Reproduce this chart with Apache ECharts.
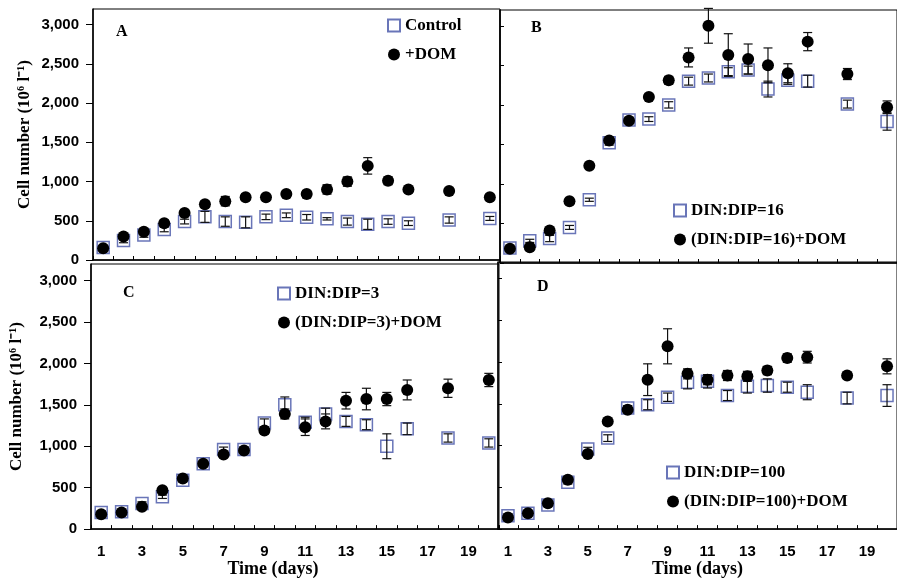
<html>
<head>
<meta charset="UTF-8">
<title>Cell number vs time</title>
<script src="https://cdn.jsdelivr.net/npm/echarts@6/dist/echarts.min.js"></script>
<style>html,body,#container{width:100%;height:100%;margin:0;padding:0;background:#fff;}</style>
</head>
<body>
<div id="container"></div>
<script>
// sampling days (17 and 19 were not sampled)
var days = [1,2,3,4,5,6,7,8,9,10,11,12,13,14,15,16,18,20];
var dayLabels = [];
for (var d = 1; d <= 20; d++) dayLabels.push(String(d));
var yTicks = [0, 500, 1000, 1500, 2000, 2500, 3000];

// A
var aCtrl    = [160,250,320,390,490,550,490,480,550,570,545,525,490,455,490,470,510,530];
var aCtrlErr = [20,30,30,30,30,70,60,70,35,30,35,15,45,65,35,30,40,25];
var aDom     = [150,300,360,470,600,710,750,800,800,840,840,900,1000,1200,1010,900,880,800];
var aDomErr  = [20,20,30,40,40,40,60,40,30,40,45,60,60,105,50,20,20,20];
// B
var bCtrl    = [190,280,310,450,800,1520,1810,1820,2000,2300,2340,2420,2440,2200,2310,2300,2010,1790];
var bCtrlErr = [20,20,40,25,20,30,30,30,40,50,50,50,50,100,50,75,50,110];
var bDom     = [180,200,410,780,1230,1550,1800,2100,2310,2600,3000,2630,2580,2500,2400,2800,2390,1970];
var bDomErr  = [20,20,30,20,20,20,20,20,50,120,220,270,190,220,120,115,70,80];
// C
var cCtrl    = [200,210,310,390,590,790,960,960,1280,1500,1290,1390,1300,1260,1000,1210,1100,1040];
var cCtrlErr = [20,20,20,20,20,20,30,30,50,95,60,70,60,60,150,70,50,50];
var cDom     = [180,200,270,470,610,790,900,950,1190,1390,1230,1300,1550,1570,1570,1680,1700,1800];
var cDomErr  = [20,20,20,30,30,30,30,30,40,60,100,90,100,130,80,120,110,80];
// D
var dCtrl    = [160,190,290,560,960,1090,1450,1490,1580,1760,1770,1600,1710,1720,1700,1640,1570,1600];
var dCtrlErr = [20,20,20,20,20,40,30,60,50,80,80,60,80,80,60,90,70,130];
var dDom     = [140,190,310,590,900,1290,1430,1790,2190,1860,1790,1840,1830,1900,2050,2060,1840,1950];
var dDomErr  = [20,20,20,20,20,20,20,190,210,60,60,60,60,50,50,70,30,90];

var panels = [
  {letter:'A', ctrl:aCtrl, ctrlErr:aCtrlErr, dom:aDom, domErr:aDomErr, ctrlName:'Control', domName:'+DOM'},
  {letter:'B', ctrl:bCtrl, ctrlErr:bCtrlErr, dom:bDom, domErr:bDomErr, ctrlName:'DIN:DIP=16', domName:'(DIN:DIP=16)+DOM'},
  {letter:'C', ctrl:cCtrl, ctrlErr:cCtrlErr, dom:cDom, domErr:cDomErr, ctrlName:'DIN:DIP=3', domName:'(DIN:DIP=3)+DOM'},
  {letter:'D', ctrl:dCtrl, ctrlErr:dCtrlErr, dom:dDom, domErr:dDomErr, ctrlName:'DIN:DIP=100', domName:'(DIN:DIP=100)+DOM'}
];

var SERIF = '"Liberation Serif", "Times New Roman", serif';
var SANS = '"Liberation Sans", Arial, sans-serif';
var BLUE = '#4353a6';

var grids = [
  {left:93, top:9, width:407, height:251},
  {left:500, top:10, width:399, height:253},
  {left:91, top:264, width:408, height:266},
  {left:498, top:262, width:402, height:268}
];
var letterPos = [[116,24],[531,20],[123,285],[537,279]];
var legendPos = [[387,17],[673,202],[277,285],[666,464]];
var yTickInside = [false, true, false, true];

function fmt(v) {
  return v >= 1000 ? Math.floor(v/1000) + ',' + String(v % 1000).padStart(3,'0') : String(v);
}

function errBars(params, api) {
  var x = api.value(0), y = api.value(1), e = api.value(2);
  var hi = api.coord([x, y + e]), lo = api.coord([x, y - e]);
  var w = 4.5;
  var st = {stroke:'#111', lineWidth:1.2};
  return {type:'group', children:[
    {type:'line', shape:{x1:hi[0], y1:hi[1], x2:lo[0], y2:lo[1]}, style:st},
    {type:'line', shape:{x1:hi[0]-w, y1:hi[1], x2:hi[0]+w, y2:hi[1]}, style:st},
    {type:'line', shape:{x1:lo[0]-w, y1:lo[1], x2:lo[0]+w, y2:lo[1]}, style:st}
  ]};
}

var option = {
  animation:false,
  backgroundColor:'#fff',
  grid:[], xAxis:[], yAxis:[], series:[], legend:[], title:[]
};

panels.forEach(function (p, i) {
  var g = grids[i];
  option.grid.push({left:g.left, top:g.top, width:g.width, height:g.height,
    show:true, borderColor:'#000', borderWidth:1, backgroundColor:'transparent'});
  var bottomRow = i >= 2;
  option.xAxis.push({
    type:'category', gridIndex:i, data:dayLabels, boundaryGap:true,
    axisLine:{lineStyle:{color:'#000', width:1.5}},
    axisTick:{show:true, inside:true, length:4, interval:0, lineStyle:{color:'#000'}},
    axisLabel:{show:bottomRow, interval:1, margin:15, color:'#000', fontFamily:SANS, fontWeight:'bold', fontSize:15},
    splitLine:{show:false},
    name: bottomRow ? 'Time (days)' : '',
    nameLocation:'middle', nameGap:30,
    nameTextStyle:{color:'#000', fontFamily:SERIF, fontWeight:'bold', fontSize:18,
      padding: i === 2 ? [0,44,0,0] : 0}
  });
  var leftCol = (i % 2 === 0);
  option.yAxis.push({
    type:'value', gridIndex:i, min:0, max:3200,
    axisLine:{show:true, lineStyle:{color:'#000', width:1.5}},
    axisTick:{show:true, inside:yTickInside[i], length: yTickInside[i] ? 4 : 7, customValues:yTicks, lineStyle:{color:'#000'}},
    axisLabel:{show:leftCol, customValues:yTicks, margin:14, formatter:fmt, color:'#000',
      fontFamily:SANS, fontWeight:'bold', fontSize:15},
    splitLine:{show:false},
    name: leftCol ? 'Cell number (10\u2076 l\u207B\u00B9)' : '',
    nameLocation:'middle', nameRotate:90, nameGap: i === 0 ? 60 : 66,
    nameTextStyle:{color:'#000', fontFamily:SERIF, fontWeight:'bold', fontSize:17}
  });
  option.series.push({
    name:p.ctrlName, type:'scatter', xAxisIndex:i, yAxisIndex:i, z:2,
    symbol:'rect', symbolSize:12,
    itemStyle:{color:'rgba(255,255,255,0)', borderColor:BLUE, borderWidth:1.5},
    data: days.map(function (d, k) { return [String(d), p.ctrl[k]]; })
  });
  option.series.push({
    type:'custom', xAxisIndex:i, yAxisIndex:i, z:3, renderItem:errBars,
    encode:{x:0, y:1}, clip:false,
    data: days.map(function (d, k) { return [String(d), p.ctrl[k], p.ctrlErr[k]]; })
  });
  option.series.push({
    type:'custom', xAxisIndex:i, yAxisIndex:i, z:3, renderItem:errBars,
    encode:{x:0, y:1}, clip:false,
    data: days.map(function (d, k) { return [String(d), p.dom[k], p.domErr[k]]; })
  });
  option.series.push({
    name:p.domName, type:'scatter', xAxisIndex:i, yAxisIndex:i, z:4,
    symbol:'circle', symbolSize:12,
    itemStyle:{color:'#000', opacity:1},
    data: days.map(function (d, k) { return [String(d), p.dom[k]]; })
  });
  option.legend.push({
    data:[p.ctrlName, p.domName], orient:'vertical',
    left:legendPos[i][0], top:legendPos[i][1], padding:0, itemGap:12,
    itemWidth:12, itemHeight:12,
    textStyle:{color:'#000', fontFamily:SERIF, fontWeight:'bold', fontSize:17}
  });
  option.title.push({
    text:p.letter, left:letterPos[i][0], top:letterPos[i][1], padding:0,
    textStyle:{color:'#000', fontFamily:SERIF, fontWeight:'bold', fontSize:16}
  });
});

var myChart = echarts.init(document.getElementById('container'));
myChart.setOption(option);
window.onresize = function () { myChart.resize(); };
</script>
</body>
</html>
